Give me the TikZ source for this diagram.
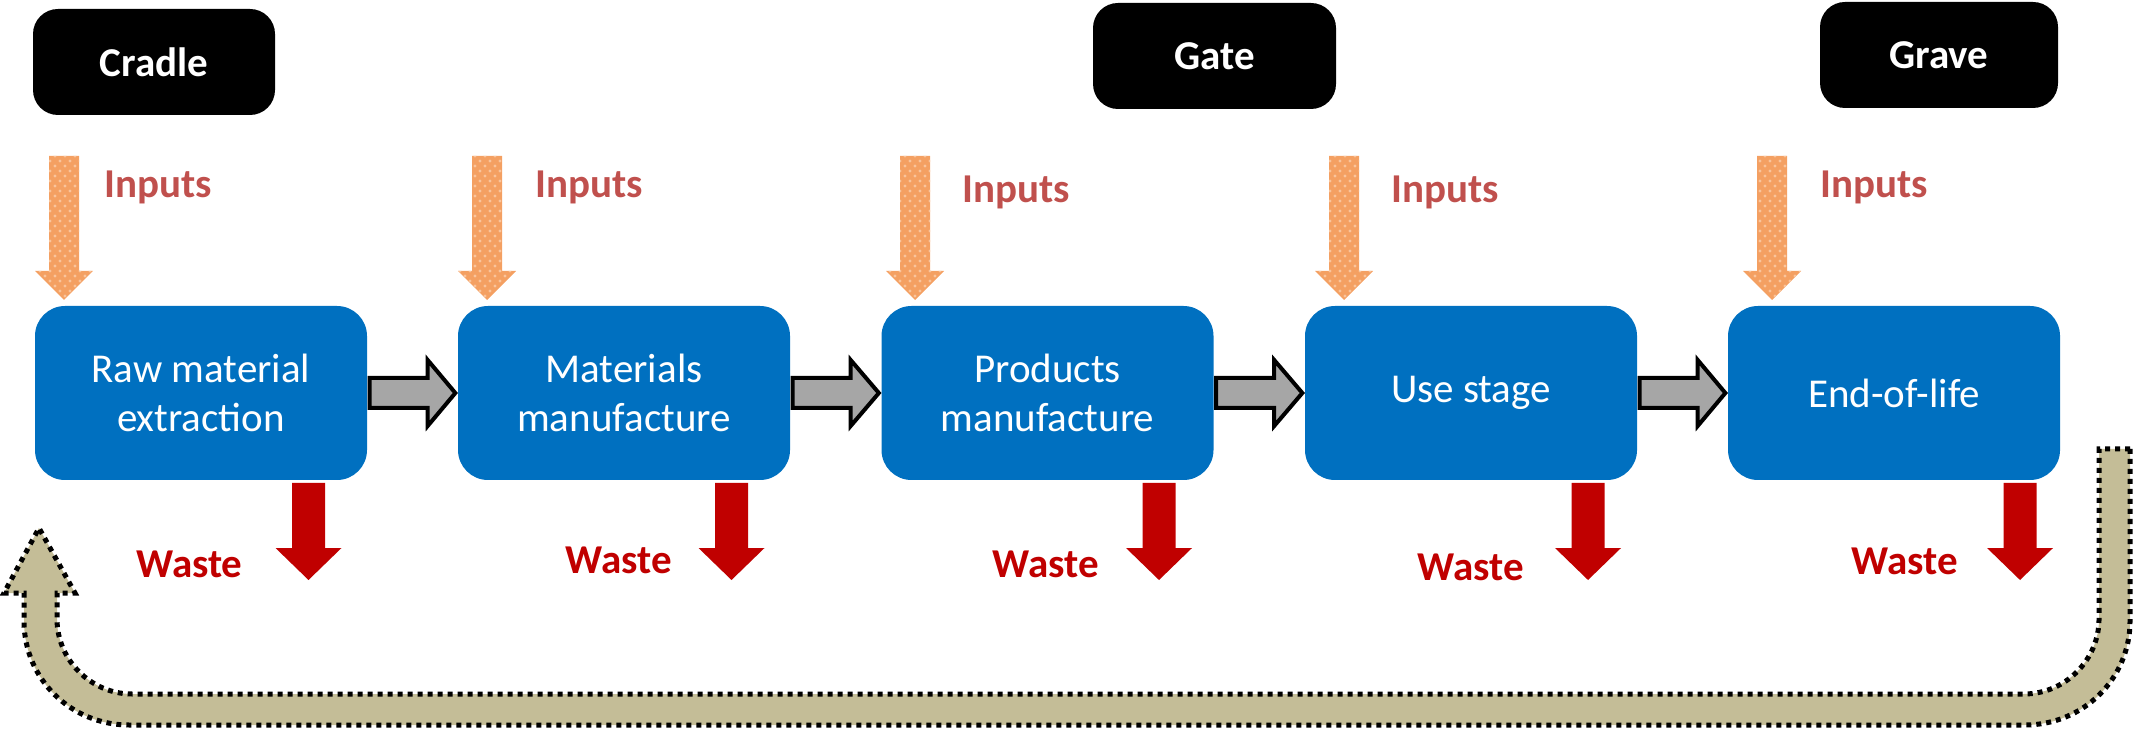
\documentclass[tikz,border=0pt]{standalone}
\usepackage{fontspec}
\setmainfont{Carlito}
\usepackage{xcolor}
\usepackage{tikz}
\usetikzlibrary{calc,patterns}

\definecolor{stageblue}{HTML}{0070C0}
\definecolor{inputred}{HTML}{C0504D}
\definecolor{wastered}{HTML}{C00000}
\definecolor{flowgrey}{HTML}{A6A6A6}
\definecolor{loopkhaki}{HTML}{C4BD97}
\definecolor{inorange}{HTML}{F4A062}
\definecolor{inorangelight}{HTML}{F9C49C}

% input arrow pointing down onto a stage, #1 = x of its axis
\newcommand{\inarrow}[1]{%
  \fill[infill] (#1-15,156) -- (#1+15,156) -- (#1+15,271) -- (#1+29,271)
    -- (#1,300) -- (#1-29,271) -- (#1-15,271) -- cycle;}
% waste arrow below a stage
\newcommand{\wastearrow}[1]{%
  \fill[wastered] (#1-16.5,483) -- (#1+16.5,483) -- (#1+16.5,548) -- (#1+33,548)
    -- (#1,580) -- (#1-33,548) -- (#1-16.5,548) -- cycle;}
% block arrow from one stage to the next
\newcommand{\flowarrow}[2]{%
  \draw[flow] ($(#1.east)+(2,-15)$) -- ($(#1.east)+(60,-15)$) -- ($(#1.east)+(60,-33)$)
    -- ($(#2.west)+(-2,0)$) -- ($(#1.east)+(60,33)$) -- ($(#1.east)+(60,15)$)
    -- ($(#1.east)+(2,15)$) -- cycle;}

\begin{document}
\begin{tikzpicture}[x=0.3pt,y=-0.3pt,
    txt/.style={font=\fontsize{12.3}{14.7}\selectfont},
    stage/.style={txt,fill=stageblue,text=white,rounded corners=9pt,align=center,
      minimum width=99.6pt,minimum height=52.2pt,inner sep=0pt},
    milestone/.style={txt,fill=black,text=white,font=\fontsize{12.3}{14.7}\selectfont\bfseries,
      rounded corners=7.5pt,minimum height=31.8pt,inner sep=0pt},
    inlabel/.style={txt,text=inputred,font=\fontsize{12.3}{14.7}\selectfont\bfseries,anchor=base},
    wastelabel/.style={txt,text=wastered,font=\fontsize{12.3}{14.7}\selectfont\bfseries,anchor=base},
    infill/.style={fill=inorange,postaction={pattern=crosshatch dots,pattern color=inorangelight}},
    flow/.style={fill=flowgrey,draw=black,line width=1.2pt,line join=miter},
    backloop/.style={fill=loopkhaki,draw=black,line width=1.5pt,dash pattern=on 1.5pt off 1.5pt}]
  \useasboundingbox (0,0) rectangle (2134,731);

  % recycling loop back to the cradle
  \draw[backloop] (2130,449) -- (2130,621) .. controls (2130,679) and (2083,725) .. (2025,725)
    -- (129,725) .. controls (71,725) and (24,679) .. (24,621) -- (24,593) -- (4,593)
    -- (39,528) -- (75,593) -- (57,593) -- (57,619) .. controls (57,660) and (91,694) .. (132,694)
    -- (2024,694) .. controls (2065,694) and (2099,660) .. (2099,619) -- (2099,449) -- cycle;

  % milestones
  \node[milestone,minimum width=72.6pt] (cradle) at (154,62) {Cradle};
  \node[milestone,minimum width=72.9pt] (gate) at (1214.5,56) {Gate};
  \node[milestone,minimum width=71.4pt] (grave) at (1939,55) {Grave};

  % life cycle stages
  \node[stage] (raw) at (201,393) {Raw material\\extraction};
  \node[stage] (mat) at (624,393) {Materials\\manufacture};
  \node[stage] (prod) at (1047.5,393) {Products\\manufacture};
  \node[stage] (use) at (1471,393) {Use stage};
  \node[stage] (eol) at (1894,393) {End-of-life};

  \flowarrow{raw}{mat}
  \flowarrow{mat}{prod}
  \flowarrow{prod}{use}
  \flowarrow{use}{eol}

  % inputs
  \inarrow{64}
  \inarrow{487}
  \inarrow{915}
  \inarrow{1344}
  \inarrow{1772}
  \node[inlabel] (in1) at (158,198) {Inputs};
  \node[inlabel] (in2) at (589,198) {Inputs};
  \node[inlabel] (in3) at (1016,203) {Inputs};
  \node[inlabel] (in4) at (1445,203) {Inputs};
  \node[inlabel] (in5) at (1874,198) {Inputs};

  % waste
  \wastearrow{308.5}
  \wastearrow{731.5}
  \wastearrow{1159}
  \wastearrow{1588}
  \wastearrow{2020}
  \node[wastelabel] (w1) at (189.5,577) {Waste};
  \node[wastelabel] (w2) at (619,573) {Waste};
  \node[wastelabel] (w3) at (1046,577) {Waste};
  \node[wastelabel] (w4) at (1470.5,580) {Waste};
  \node[wastelabel] (w5) at (1905,574) {Waste};
\end{tikzpicture}
\end{document}
